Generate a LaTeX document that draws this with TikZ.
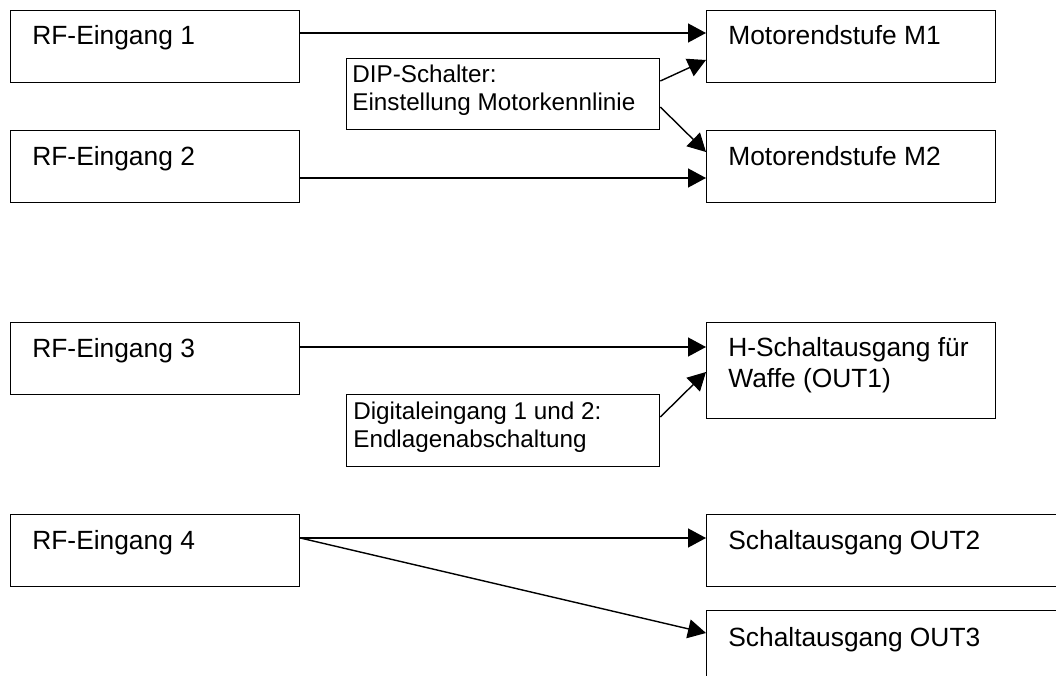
\documentclass[tikz,border=0pt]{standalone}
\usepackage{fontspec}
\setmainfont{Liberation Sans}
\usetikzlibrary{calc,arrows.meta}

\tikzset{
	blk/.style={draw, line width=0.8pt, rectangle, inner sep=0pt, anchor=north west, minimum width=5.78cm, minimum height=1.44cm},
	txt/.style={anchor=base west, inner sep=0pt, align=left, font=\fontsize{15}{17.6}\selectfont},
	note/.style={txt, font=\fontsize{13.8}{15.4}\selectfont},
	arr/.style={line width=0.8pt, -{Triangle[length=0.36cm, width=0.38cm]}}
}

\begin{document}
\begin{tikzpicture}[x=0.02cm, y=-0.02cm]
			%%%%% START %%%%%
			\useasboundingbox (0, 0) rectangle (1056, 676);
			\clip (0, 0) rectangle (1056, 676);
			
			% inputs
			\node[blk] (rf1) at (10, 10) {};
			\node[blk] (rf2) at (10, 130) {};
			\node[blk] (rf3) at (10, 322) {};
			\node[blk] (rf4) at (10, 514) {};
			\node[txt] (rf1t) at ($(rf1.north west)+(22, 35)$) {RF-Eingang 1};
			\node[txt] (rf2t) at ($(rf2.north west)+(22, 35)$) {RF-Eingang 2};
			\node[txt] (rf3t) at ($(rf3.north west)+(22, 35)$) {RF-Eingang 3};
			\node[txt] (rf4t) at ($(rf4.north west)+(22, 35)$) {RF-Eingang 4};
			
			% outputs
			\node[blk] (m1) at (706, 10) {};
			\node[blk] (m2) at (706, 130) {};
			\node[blk, minimum height=1.92cm] (hout) at (706, 322) {};
			\node[blk, minimum width=8cm] (out2) at (706, 514) {};
			\node[blk, minimum width=8cm] (out3) at (706, 610) {};
			\node[txt] (m1t) at ($(m1.north west)+(22, 35)$) {Motorendstufe M1};
			\node[txt] (m2t) at ($(m2.north west)+(22, 35)$) {Motorendstufe M2};
			% base = last line
			\node[txt] (houtt) at ($(hout.north west)+(22, 65)$) {H-Schaltausgang für\\Waffe (OUT1)};
			\node[txt] (out2t) at ($(out2.north west)+(22, 35)$) {Schaltausgang OUT2};
			\node[txt] (out3t) at ($(out3.north west)+(22, 36)$) {Schaltausgang OUT3};
			
			% settings
			\node[blk, minimum width=6.26cm, minimum height=1.42cm] (dip) at (346, 58) {};
			\node[blk, minimum width=6.26cm] (dig) at (346, 394) {};
			\node[note] (dipt) at ($(dip.north west)+(6, 52)$) {DIP-Schalter:\\Einstellung Motorkennlinie};
			\node[note] (digt) at ($(dig.north west)+(7, 53)$) {Digitaleingang 1 und 2:\\Endlagenabschaltung};
			
			% connections
			\draw[arr] ($(rf1.north east)+(0, 23)$) -- ($(m1.north west)+(0, 23)$);
			\draw[arr] ($(rf2.north east)+(0, 48)$) -- ($(m2.north west)+(0, 48)$);
			\draw[arr] ($(dip.north east)+(0, 23)$) -- ($(m1.north west)+(0, 50)$);
			\draw[arr] ($(dip.north east)+(0, 49)$) -- ($(m2.north west)+(0, 22)$);
			
			\draw[arr] ($(rf3.north east)+(0, 25)$) -- ($(hout.north west)+(0, 25)$);
			\draw[arr] ($(dig.north east)+(0, 23)$) -- ($(hout.north west)+(0, 50)$);
			
			\draw[arr] ($(rf4.north east)+(0, 24)$) -- ($(out2.north west)+(0, 24)$);
			\draw[arr] ($(rf4.north east)+(0, 24)$) -- ($(out3.north west)+(0, 23)$);
			
			%%%%% END %%%%%
\end{tikzpicture}
\end{document}
